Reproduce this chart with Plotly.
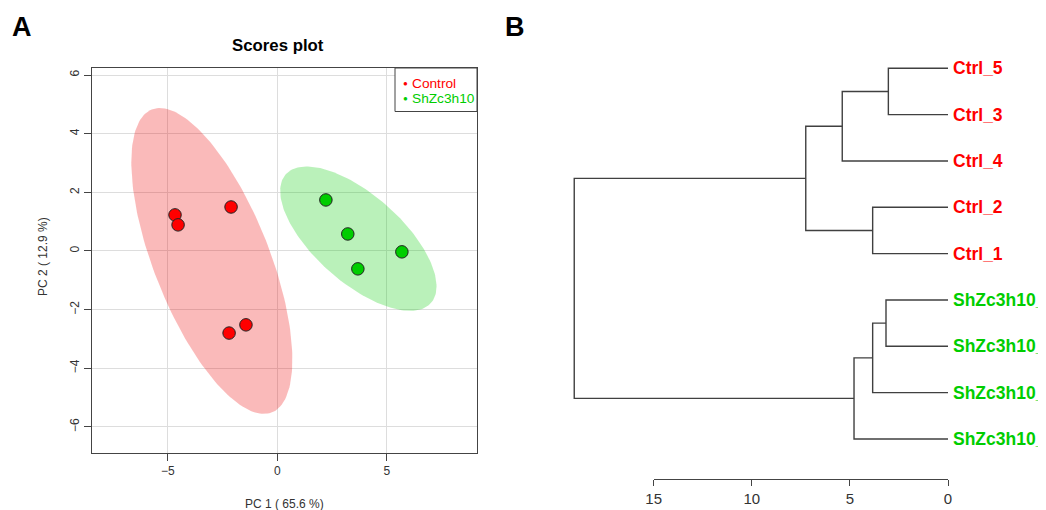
import numpy as np
import plotly.graph_objects as go

# ---------------- data ----------------
ctrl_pc1 = [-4.67, -4.53, -2.11, -2.20, -1.43]
ctrl_pc2 = [1.23, 0.89, 1.50, -2.80, -2.52]
sh_pc1 = [2.22, 3.22, 3.68, 5.69]
sh_pc2 = [1.74, 0.58, -0.61, -0.03]
group_names = ["Control", "ShZc3h10"]
x_ticks = [-5, 0, 5]
y_ticks = [-6, -4, -2, 0, 2, 4, 6]

leaf_labels = ["Ctrl_5", "Ctrl_3", "Ctrl_4", "Ctrl_2", "Ctrl_1",
               "ShZc3h10_", "ShZc3h10_", "ShZc3h10_", "ShZc3h10_"]
leaf_groups = [0, 0, 0, 0, 0, 1, 1, 1, 1]
# merges (R hclust style): negative = leaf index (1-based), positive = earlier merge
merge_left = [-1, -6, -4, 2, -3, 4, 5, 7]
merge_right = [-2, -7, -5, -8, 1, -9, 3, 6]
merge_height = [3.04, 3.16, 3.84, 3.84, 5.39, 4.79, 7.25, 19.05]
dist_ticks = [15, 10, 5, 0]

RED = "#FF0000"
GREEN = "#00CD00"
FONT = "Liberation Sans, Arial, sans-serif"
W, H = 1046, 510
OFF = 8  # page body offset of the plot div


def px(x):
    return (x - OFF) / W


def py(y):
    return 1 - (y - OFF) / H


def ellipse(xs, ys, level_t=np.sqrt(-2 * np.log(0.05)), n=200):
    pts = np.column_stack([xs, ys])
    mu = pts.mean(axis=0)
    cov = np.cov(pts.T, ddof=1)
    vals, vecs = np.linalg.eigh(cov)
    th = np.linspace(0, 2 * np.pi, n)
    circ = np.column_stack([np.cos(th), np.sin(th)])
    e = circ * np.sqrt(vals) * level_t
    e = e @ vecs.T + mu
    return e[:, 0], e[:, 1]


fig = go.Figure()

# ellipses
ex, ey = ellipse(ctrl_pc1, ctrl_pc2)
fig.add_trace(go.Scatter(x=ex, y=ey, mode="lines", fill="toself",
                         fillcolor="rgba(235,0,0,0.27)", line=dict(width=0),
                         hoverinfo="skip", showlegend=False))
ex, ey = ellipse(sh_pc1, sh_pc2)
fig.add_trace(go.Scatter(x=ex, y=ey, mode="lines", fill="toself",
                         fillcolor="rgba(0,205,0,0.27)", line=dict(width=0),
                         hoverinfo="skip", showlegend=False))
# points
fig.add_trace(go.Scatter(x=ctrl_pc1, y=ctrl_pc2, mode="markers", name=group_names[0],
                         marker=dict(size=12.5, color=RED, line=dict(color="#222", width=1)),
                         showlegend=False))
fig.add_trace(go.Scatter(x=sh_pc1, y=sh_pc2, mode="markers", name=group_names[1],
                         marker=dict(size=12.5, color=GREEN, line=dict(color="#222", width=1)),
                         showlegend=False))

# ---------------- dendrogram ----------------
node_pos = {}
node_h = {}
seg_x, seg_y = [], []
for i, (a, b, h) in enumerate(zip(merge_left, merge_right, merge_height)):
    def info(k):
        if k < 0:
            return float(-k - 1), 0.0
        return node_pos[k], node_h[k]
    ya, ha = info(a)
    yb, hb = info(b)
    seg_x += [ha, h, h, hb, None]
    seg_y += [ya, ya, yb, yb, None]
    node_pos[i + 1] = (ya + yb) / 2
    node_h[i + 1] = h

# dummy for distance axis (drawn first so its subplot sits below)
fig.add_trace(go.Scatter(x=[dist_ticks[0], dist_ticks[-1]], y=[0, 0], mode="markers",
                         xaxis="x3", yaxis="y2", marker=dict(opacity=0),
                         hoverinfo="skip", showlegend=False))
fig.add_trace(go.Scatter(x=seg_x, y=seg_y, mode="lines", xaxis="x2", yaxis="y2",
                         line=dict(color="#404040", width=1.4), hoverinfo="skip",
                         showlegend=False))

annotations = []
for i, (lab, g) in enumerate(zip(leaf_labels, leaf_groups)):
    annotations.append(dict(x=0, y=i, xref="x2", yref="y2", text="<b>%s</b>" % lab,
                            xanchor="left", yanchor="middle", xshift=3, showarrow=False,
                            font=dict(family=FONT, size=17.5, color=RED if g == 0 else GREEN)))

# panel letters, title, axis titles
annotations += [
    dict(x=px(22), y=py(27), xref="paper", yref="paper", text="<b>A</b>", showarrow=False,
         font=dict(family=FONT, size=27, color="black"), xanchor="center", yanchor="middle"),
    dict(x=px(515), y=py(27), xref="paper", yref="paper", text="<b>B</b>", showarrow=False,
         font=dict(family=FONT, size=27, color="black"), xanchor="center", yanchor="middle"),
    dict(x=px(278), y=py(46), xref="paper", yref="paper", text="<b>Scores plot</b>",
         showarrow=False, font=dict(family=FONT, size=16.8, color="black"),
         xanchor="center", yanchor="middle"),
    dict(x=px(284), y=py(504), xref="paper", yref="paper", text="PC 1 ( 65.6 %)",
         showarrow=False, font=dict(family=FONT, size=12, color="#333"),
         xanchor="center", yanchor="middle"),
    dict(x=px(43), y=py(257), xref="paper", yref="paper", text="PC 2 ( 12.9 %)",
         showarrow=False, textangle=-90, font=dict(family=FONT, size=12, color="#333"),
         xanchor="center", yanchor="middle"),
    # legend
    dict(x=px(405), y=py(83), xref="paper", yref="paper", text="●", showarrow=False,
         font=dict(family=FONT, size=8, color=RED), xanchor="center", yanchor="middle"),
    dict(x=px(410), y=py(83), xref="paper", yref="paper", text=group_names[0], showarrow=False,
         font=dict(family=FONT, size=13.7, color=RED), xanchor="left", yanchor="middle"),
    dict(x=px(405), y=py(98), xref="paper", yref="paper", text="●", showarrow=False,
         font=dict(family=FONT, size=8, color=GREEN), xanchor="center", yanchor="middle"),
    dict(x=px(410), y=py(98), xref="paper", yref="paper", text=group_names[1], showarrow=False,
         font=dict(family=FONT, size=13.7, color=GREEN), xanchor="left", yanchor="middle"),
]

shapes = [dict(type="rect", xref="paper", yref="paper", x0=px(395), x1=px(477),
               y0=py(111.5), y1=py(68), line=dict(color="#444", width=1),
               fillcolor="white", layer="above")]

# dendrogram vertical scale: leaf i sits at pixel 68.3 + 46.33 * i
LEAF0, LEAFSTEP = 68.3, 46.33
y2_top = (OFF - LEAF0) / LEAFSTEP
y2_bot = (OFF + H - LEAF0) / LEAFSTEP

axis_font = dict(family=FONT, size=12, color="#333")
fig.update_layout(
    template="none",
    width=W, height=H, margin=dict(l=0, r=0, t=0, b=0, pad=0, autoexpand=False),
    paper_bgcolor="white", plot_bgcolor="rgba(0,0,0,0)",
    font=dict(family=FONT),
    xaxis=dict(domain=[px(92), px(477)], range=[-8.46, 9.12], tickvals=x_ticks,
               showgrid=True, gridcolor="#dddddd", gridwidth=1, zeroline=False,
               showline=True, mirror=True, linecolor="#444", linewidth=1,
               ticks="outside", ticklen=7, tickcolor="#444", tickfont=axis_font,
               anchor="y", automargin=False),
    yaxis=dict(domain=[py(453), py(68)], range=[-6.89, 6.24], tickvals=y_ticks,
               showgrid=True, gridcolor="#dddddd", gridwidth=1, zeroline=False,
               showline=True, mirror=True, linecolor="#444", linewidth=1,
               ticks="outside", ticklen=7, tickcolor="#444", tickfont=axis_font,
               tickangle=-90, anchor="x", automargin=False),
    xaxis2=dict(domain=[px(560), px(948)], range=[(948 - 560) / 19.62, 0],
                visible=False, anchor="y2", automargin=False),
    yaxis2=dict(domain=[0, 1], range=[y2_bot, y2_top],
                visible=False, anchor="x2", automargin=False),
    xaxis3=dict(domain=[px(653.7), px(948)], range=[15, 0], tickvals=dist_ticks,
                anchor="free", position=py(479), showgrid=False, zeroline=False,
                showline=True, linecolor="#444", linewidth=1, ticks="outside",
                ticklen=6, tickcolor="#444", automargin=False,
                tickfont=dict(family=FONT, size=15, color="#333")),
    annotations=annotations, shapes=shapes, showlegend=False,
)

fig.write_html("out.html")
